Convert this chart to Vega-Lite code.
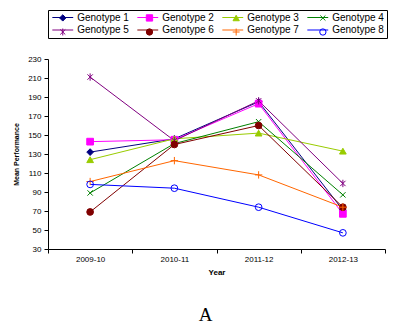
{
  "$schema": "https://vega.github.io/schema/vega-lite/v6.json",
  "width": 337,
  "height": 190,
  "autosize": {"type": "none"},
  "padding": {"left": 48, "top": 59, "right": 27, "bottom": 83},
  "background": "white",
  "title": {
    "text": "A",
    "orient": "bottom",
    "anchor": "middle",
    "font": "Liberation Serif",
    "fontSize": 19,
    "fontWeight": "normal",
    "color": "black",
    "dx": -11,
    "offset": 30
  },
  "data": {
    "values": [
      {"Genotype": "Genotype 1", "Year": "2009-10", "Performance": 132},
      {"Genotype": "Genotype 1", "Year": "2010-11", "Performance": 146},
      {"Genotype": "Genotype 1", "Year": "2011-12", "Performance": 185},
      {"Genotype": "Genotype 1", "Year": "2012-13", "Performance": 71},
      {"Genotype": "Genotype 2", "Year": "2009-10", "Performance": 143},
      {"Genotype": "Genotype 2", "Year": "2010-11", "Performance": 145},
      {"Genotype": "Genotype 2", "Year": "2011-12", "Performance": 183},
      {"Genotype": "Genotype 2", "Year": "2012-13", "Performance": 67},
      {"Genotype": "Genotype 3", "Year": "2009-10", "Performance": 124},
      {"Genotype": "Genotype 3", "Year": "2010-11", "Performance": 146},
      {"Genotype": "Genotype 3", "Year": "2011-12", "Performance": 152},
      {"Genotype": "Genotype 3", "Year": "2012-13", "Performance": 133},
      {"Genotype": "Genotype 4", "Year": "2009-10", "Performance": 89},
      {"Genotype": "Genotype 4", "Year": "2010-11", "Performance": 141},
      {"Genotype": "Genotype 4", "Year": "2011-12", "Performance": 164},
      {"Genotype": "Genotype 4", "Year": "2012-13", "Performance": 87},
      {"Genotype": "Genotype 5", "Year": "2009-10", "Performance": 211},
      {"Genotype": "Genotype 5", "Year": "2010-11", "Performance": 144},
      {"Genotype": "Genotype 5", "Year": "2011-12", "Performance": 186},
      {"Genotype": "Genotype 5", "Year": "2012-13", "Performance": 99},
      {"Genotype": "Genotype 6", "Year": "2009-10", "Performance": 69},
      {"Genotype": "Genotype 6", "Year": "2010-11", "Performance": 140},
      {"Genotype": "Genotype 6", "Year": "2011-12", "Performance": 160},
      {"Genotype": "Genotype 6", "Year": "2012-13", "Performance": 74},
      {"Genotype": "Genotype 7", "Year": "2009-10", "Performance": 101},
      {"Genotype": "Genotype 7", "Year": "2010-11", "Performance": 123},
      {"Genotype": "Genotype 7", "Year": "2011-12", "Performance": 108},
      {"Genotype": "Genotype 7", "Year": "2012-13", "Performance": 74},
      {"Genotype": "Genotype 8", "Year": "2009-10", "Performance": 98},
      {"Genotype": "Genotype 8", "Year": "2010-11", "Performance": 94},
      {"Genotype": "Genotype 8", "Year": "2011-12", "Performance": 74},
      {"Genotype": "Genotype 8", "Year": "2012-13", "Performance": 47}
    ]
  },
  "encoding": {
    "x": {
      "field": "Year",
      "type": "ordinal",
      "scale": {"type": "band", "paddingInner": 0, "paddingOuter": 0},
      "axis": {
        "title": "Year",
        "labelAngle": 0,
        "tickBand": "extent",
        "tickSize": 4,
        "labelPadding": 2,
        "titlePadding": 5,
        "titleFontSize": 8,
        "titleFontWeight": "bold"
      }
    },
    "y": {
      "field": "Performance",
      "type": "quantitative",
      "scale": {"domain": [30, 230], "nice": false, "zero": false},
      "axis": {
        "title": "Mean Performance",
        "values": [30, 50, 70, 90, 110, 130, 150, 170, 190, 210, 230],
        "grid": false,
        "tickSize": 4,
        "labelPadding": 3,
        "titlePadding": 8,
        "titleFontSize": 7,
        "titleFontWeight": "bold"
      }
    }
  },
  "layer": [
    {
      "mark": {"type": "line", "strokeWidth": 1},
      "encoding": {
        "color": {
          "field": "Genotype",
          "type": "nominal",
          "title": null,
          "scale": {
            "range": ["#000080", "#FF00FF", "#99CC00", "#008000", "#800080", "#800000", "#FF6600", "#0000FF"]
          },
          "legend": {
            "symbolType": "M-1,0H5.6",
            "symbolSize": 40,
            "labelOffset": 16.7,
            "columnPadding": 5,
            "strokeColor": "black",
            "legendX": 0,
            "legendY": -49
          }
        }
      }
    },
    {
      "mark": {"type": "point", "opacity": 1, "strokeWidth": 1, "size": 45},
      "encoding": {
        "stroke": {
          "field": "Genotype",
          "type": "nominal",
          "title": null,
          "scale": {
            "domain": ["Genotype 1", "Genotype 2", "Genotype 3", "Genotype 4", "Genotype 5", "Genotype 6", "Genotype 7", "Genotype 8"],
            "range": ["#000080", "#FF00FF", "#99CC00", "#008000", "#800080", "#800000", "#FF6600", "#0000FF"]
          },
          "legend": {
            "symbolSize": 40,
            "labelOffset": -8,
            "labelExpr": "' '",
            "columnPadding": 74.7,
            "legendX": 7.27,
            "legendY": -49
          }
        },
        "fill": {
          "field": "Genotype",
          "type": "nominal",
          "title": null,
          "scale": {
            "domain": ["Genotype 1", "Genotype 2", "Genotype 3", "Genotype 4", "Genotype 5", "Genotype 6", "Genotype 7", "Genotype 8"],
            "range": ["#000080", "#FF00FF", "#99CC00", "transparent", "transparent", "#800000", "transparent", "transparent"]
          },
          "legend": {
            "symbolSize": 40,
            "labelOffset": -8,
            "labelExpr": "' '",
            "columnPadding": 74.7,
            "legendX": 7.27,
            "legendY": -49
          }
        },
        "shape": {
          "field": "Genotype",
          "type": "nominal",
          "title": null,
          "scale": {
            "domain": ["Genotype 1", "Genotype 2", "Genotype 3", "Genotype 4", "Genotype 5", "Genotype 6", "Genotype 7", "Genotype 8"],
            "range": ["diamond", "square", "triangle-up", "M-0.8,-0.8L0.8,0.8M-0.8,0.8L0.8,-0.8", "M-0.8,-0.8L0.8,0.8M-0.8,0.8L0.8,-0.8M0,-1.1V1.1", "circle", "M-1.1,0H1.1M0,-1.1V1.1", "circle"]
          },
          "legend": {
            "symbolSize": 40,
            "labelOffset": -8,
            "labelExpr": "' '",
            "columnPadding": 74.7,
            "legendX": 7.27,
            "legendY": -49
          }
        }
      }
    }
  ],
  "config": {
    "font": "Liberation Sans",
    "view": {"stroke": null},
    "axis": {
      "labelFont": "Liberation Sans",
      "labelFontSize": 8,
      "labelColor": "black",
      "titleFont": "Liberation Sans",
      "titleColor": "black",
      "domainColor": "black",
      "tickColor": "black",
      "domainWidth": 1,
      "tickWidth": 1
    },
    "legend": {
      "orient": "none",
      "direction": "horizontal",
      "columns": 4,
      "padding": 2.5,
      "symbolStrokeWidth": 1,
      "symbolOpacity": 1,
      "labelFont": "Liberation Sans",
      "labelFontSize": 10,
      "labelColor": "black",
      "rowPadding": 2.5,
      "labelLimit": 100
    }
  }
}
